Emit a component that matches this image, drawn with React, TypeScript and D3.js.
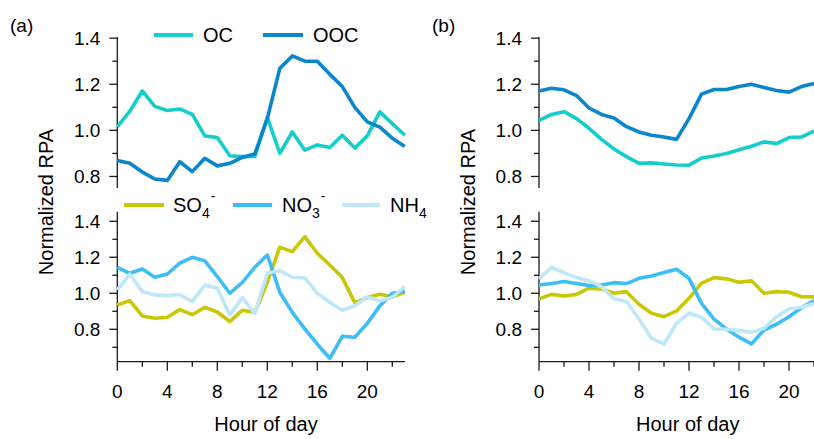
import React, { useEffect, useRef } from "react";
import * as d3 from "d3";

const hoursA = d3.range(0, 24);
const hoursB = d3.range(0, 23);

const ocA = [1.015, 1.083, 1.171, 1.104, 1.086, 1.093, 1.069, 0.976, 0.969, 0.89, 0.886, 0.887, 1.057, 0.9, 0.993, 0.914, 0.937, 0.926, 0.979, 0.923, 0.976, 1.08, 1.029, 0.979];
const oocA = [0.869, 0.857, 0.819, 0.789, 0.783, 0.864, 0.821, 0.879, 0.846, 0.857, 0.883, 0.897, 1.051, 1.269, 1.323, 1.3, 1.3, 1.243, 1.19, 1.1, 1.037, 1.014, 0.966, 0.93];
const so4A = [0.935, 0.959, 0.874, 0.861, 0.867, 0.909, 0.881, 0.922, 0.896, 0.843, 0.906, 0.894, 1.06, 1.256, 1.231, 1.315, 1.222, 1.157, 1.087, 0.948, 0.976, 0.994, 0.981, 1.006];
const no3A = [1.144, 1.111, 1.135, 1.089, 1.107, 1.167, 1.2, 1.18, 1.093, 1.0, 1.061, 1.144, 1.213, 1.006, 0.894, 0.802, 0.717, 0.639, 0.761, 0.756, 0.833, 0.93, 1.0, 1.009];
const nh4A = [1.019, 1.106, 1.009, 0.991, 0.987, 0.993, 0.954, 1.046, 1.028, 0.88, 0.976, 0.889, 1.111, 1.126, 1.089, 1.085, 1.0, 0.95, 0.906, 0.931, 0.981, 0.957, 0.978, 1.037];

const ocB = [1.043, 1.069, 1.081, 1.051, 1.009, 0.961, 0.919, 0.886, 0.857, 0.859, 0.854, 0.85, 0.849, 0.88, 0.889, 0.9, 0.916, 0.931, 0.95, 0.943, 0.969, 0.971, 0.997];
const oocB = [1.171, 1.183, 1.176, 1.151, 1.097, 1.069, 1.054, 1.016, 0.993, 0.979, 0.971, 0.961, 1.051, 1.157, 1.177, 1.177, 1.19, 1.2, 1.186, 1.173, 1.166, 1.19, 1.203];
const so4B = [0.969, 0.994, 0.985, 0.994, 1.028, 1.024, 1.0, 1.009, 0.939, 0.889, 0.87, 0.902, 0.972, 1.056, 1.087, 1.08, 1.061, 1.069, 1.0, 1.009, 1.006, 0.981, 0.98];
const no3B = [1.046, 1.054, 1.065, 1.054, 1.043, 1.046, 1.059, 1.054, 1.083, 1.096, 1.115, 1.133, 1.083, 0.944, 0.856, 0.802, 0.756, 0.719, 0.796, 0.828, 0.87, 0.92, 0.959];
const nh4B = [1.08, 1.143, 1.115, 1.087, 1.069, 1.037, 0.969, 0.954, 0.857, 0.75, 0.717, 0.833, 0.889, 0.867, 0.802, 0.8, 0.793, 0.783, 0.806, 0.87, 0.913, 0.922, 0.943];

const xMajorTicks = [0, 4, 8, 12, 16, 20];
const xMinorTicks = [2, 6, 10, 14, 18, 22];
const yMajorTicks = [0.8, 1.0, 1.2, 1.4];
const yMinorTicks = [0.7, 0.9, 1.1, 1.3];

const C_OC = "#14CECB";
const C_OOC = "#0A86CC";
const C_SO4 = "#C9C804";
const C_NO3 = "#3DBEF6";
const C_NH4 = "#BEE7FA";

const FONT = "'Liberation Sans', Arial, sans-serif";

export default function App() {
  const ref = useRef<SVGSVGElement | null>(null);

  useEffect(() => {
    const svg = d3.select(ref.current);
    svg.selectAll("*").remove();

    const panels = [
      { x0: 117.3, hours: hoursA, top: [ocA, oocA], bot: [so4A, no3A, nh4A], xEnd: 23, label: "(a)", lx: 10 },
      { x0: 539, hours: hoursB, top: [ocB, oocB], bot: [so4B, no3B, nh4B], xEnd: 22.6, label: "(b)", lx: 432 },
    ];

    const topColors = [C_OC, C_OOC];
    const botColors = [C_SO4, C_NO3, C_NH4];

    panels.forEach((p) => {
      const x = d3.scaleLinear().domain([0, 23]).range([p.x0, p.x0 + 23 * 12.5]);
      const yTop = d3.scaleLinear().domain([0.75, 1.405]).range([188, 37]);
      const yBot = d3.scaleLinear().domain([0.62, 1.453]).range([361.7, 211.7]);

      const g = svg.append("g");

      // panel label
      g.append("text").attr("x", p.lx).attr("y", 32).attr("font-family", FONT).attr("font-size", 19).text(p.label);

      const drawYAxis = (y: d3.ScaleLinear<number, number>, minors: number[]) => {
        const [d0, d1] = y.domain();
        g.append("line").attr("x1", x(0)).attr("x2", x(0)).attr("y1", y(d0)).attr("y2", y(d1))
          .attr("stroke", "#1a1a1a").attr("stroke-width", 1.3);
        yMajorTicks.filter((t) => t >= d0 && t <= d1).forEach((t) => {
          g.append("line").attr("x1", x(0) - 8).attr("x2", x(0)).attr("y1", y(t)).attr("y2", y(t))
            .attr("stroke", "#1a1a1a").attr("stroke-width", 1.3);
          g.append("text").attr("x", x(0) - 17).attr("y", y(t) + 6.8).attr("text-anchor", "end")
            .attr("font-family", FONT).attr("font-size", 19).text(d3.format(".1f")(t));
        });
        minors.filter((t) => t >= d0 && t <= d1).forEach((t) => {
          g.append("line").attr("x1", x(0) - 5).attr("x2", x(0)).attr("y1", y(t)).attr("y2", y(t))
            .attr("stroke", "#1a1a1a").attr("stroke-width", 1.3);
        });
      };
      drawYAxis(yTop, yMinorTicks);
      drawYAxis(yBot, yMinorTicks);

      // x axis (bottom panel only)
      const yb = yBot(0.62);
      g.append("line").attr("x1", x(0)).attr("x2", x(p.xEnd)).attr("y1", yb).attr("y2", yb)
        .attr("stroke", "#1a1a1a").attr("stroke-width", 1.3);
      xMajorTicks.forEach((t) => {
        g.append("line").attr("x1", x(t)).attr("x2", x(t)).attr("y1", yb).attr("y2", yb + 9)
          .attr("stroke", "#1a1a1a").attr("stroke-width", 1.3);
        g.append("text").attr("x", x(t)).attr("y", 398).attr("text-anchor", "middle")
          .attr("font-family", FONT).attr("font-size", 19).text(String(t));
      });
      xMinorTicks.forEach((t) => {
        g.append("line").attr("x1", x(t)).attr("x2", x(t)).attr("y1", yb).attr("y2", yb + 5)
          .attr("stroke", "#1a1a1a").attr("stroke-width", 1.3);
      });

      // titles
      g.append("text").attr("x", x(11.9)).attr("y", 431).attr("text-anchor", "middle")
        .attr("font-family", FONT).attr("font-size", 20).text("Hour of day");
      g.append("text").attr("transform", `translate(${x(0) - 64},202) rotate(-90)`).attr("text-anchor", "middle")
        .attr("font-family", FONT).attr("font-size", 20).text("Normalized RPA");

      const drawLines = (series: number[][], colors: string[], y: d3.ScaleLinear<number, number>) => {
        series.forEach((s, i) => {
          const line = d3.line<number>().x((_, j) => x(p.hours[j])).y((v) => y(v));
          g.append("path").attr("d", line(s) || "").attr("fill", "none").attr("stroke", colors[i])
            .attr("stroke-width", 3.6).attr("stroke-linejoin", "round").attr("stroke-linecap", "butt");
        });
      };
      drawLines(p.top, topColors, yTop);
      drawLines(p.bot, botColors, yBot);
    });

    // legends
    const legend = svg.append("g");
    const legItem = (x1: number, x2: number, y: number, color: string, tx: number, ty: number, main: string, sub?: string, sup?: string) => {
      legend.append("line").attr("x1", x1).attr("x2", x2).attr("y1", y).attr("y2", y).attr("stroke", color).attr("stroke-width", 4.2);
      const t = legend.append("text").attr("x", tx).attr("y", ty).attr("font-family", FONT).attr("font-size", 20);
      t.append("tspan").text(main);
      if (sub) t.append("tspan").attr("font-size", 14).attr("dy", 6).text(sub);
      if (sup) t.append("tspan").attr("font-size", 14).attr("dy", -17).attr("dx", 1).text(sup);
    };
    legItem(154, 193, 35, C_OC, 203, 42, "OC");
    legItem(263, 303, 35, C_OOC, 313, 42, "OOC");
    legItem(124, 164, 205, C_SO4, 173, 212, "SO", "4", "-");
    legItem(233, 272, 205, C_NO3, 282, 212, "NO", "3", "-");
    legItem(342, 380, 205, C_NH4, 390, 212, "NH", "4");
  }, []);

  return (
    <svg ref={ref} width={814} height={439} style={{ position: "absolute", left: 0, top: 0, background: "#fff" }} />
  );
}
